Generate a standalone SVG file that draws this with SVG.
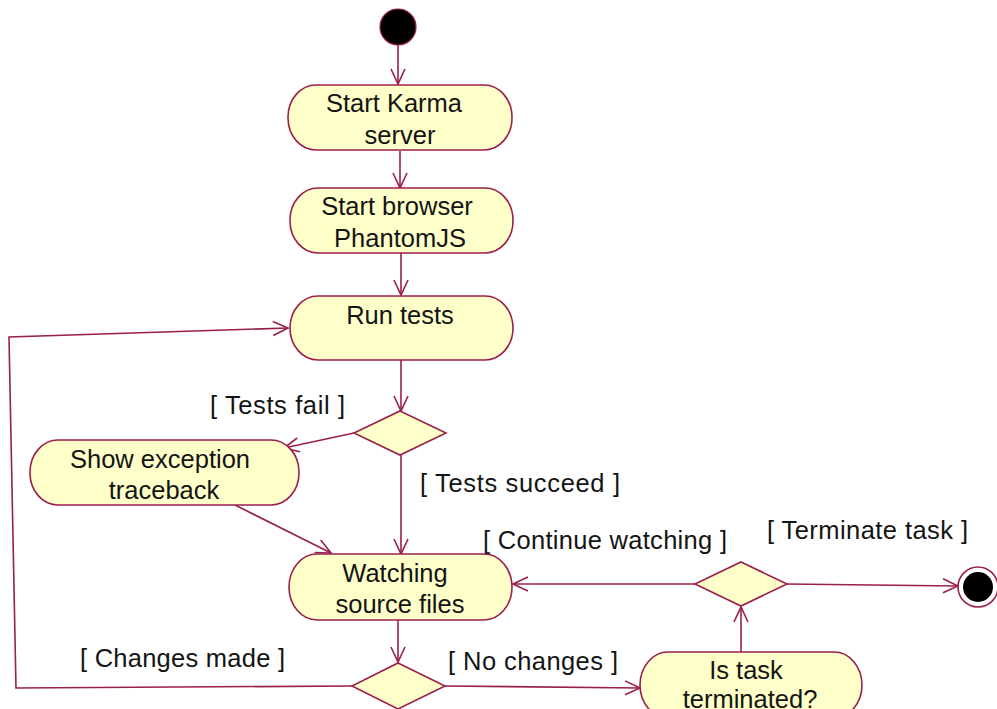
<svg xmlns="http://www.w3.org/2000/svg" width="997" height="709" viewBox="0 0 997 709">
  <style>
    .act { fill: #FFFFCA; stroke: #9B1F4C; stroke-width: 1.6; }
    .dec { fill: #FFFFCA; stroke: #9B1F4C; stroke-width: 1.6; }
    .edge { fill: none; stroke: #9B1F4C; stroke-width: 1.6; marker-end: url(#open); }
    .lbl { font-family: "Liberation Sans", Arial, sans-serif; font-size: 25.5px; fill: #141414; }
    .mid { text-anchor: middle; }
  </style>
  <defs>
    <marker id="open" markerUnits="userSpaceOnUse" markerWidth="20" markerHeight="20" refX="16" refY="8" orient="auto">
      <path d="M1,1 L16,8 L1,15" fill="none" stroke="#9B1F4C" stroke-width="1.6"/>
    </marker>
  </defs>

  <!-- connectors -->
  <g id="connectors">
    <line class="edge" x1="398" y1="45" x2="398" y2="84"/>
    <line class="edge" x1="400" y1="151" x2="400" y2="188"/>
    <line class="edge" x1="401" y1="253" x2="401" y2="295"/>
    <line class="edge" x1="401" y1="360" x2="401" y2="411"/>
    <line class="edge" x1="354" y1="433" x2="284" y2="448"/>
    <line class="edge" x1="401" y1="455" x2="401" y2="554"/>
    <line class="edge" x1="235" y1="505" x2="331" y2="553"/>
    <line class="edge" x1="398" y1="620" x2="398" y2="662"/>
    <polyline class="edge" points="352,686 16,688 9,337 288,328"/>
    <line class="edge" x1="445" y1="686" x2="640" y2="688"/>
    <line class="edge" x1="741" y1="652" x2="741" y2="607"/>
    <line class="edge" x1="695" y1="584" x2="513" y2="584"/>
    <line class="edge" x1="787" y1="584" x2="958" y2="586"/>
  </g>

  <!-- guard labels -->
  <g id="guards">
    <text class="lbl" x="210" y="414" textLength="135">[ Tests fail ]</text>
    <text class="lbl" x="420" y="492" textLength="200">[ Tests succeed ]</text>
    <text class="lbl" x="80" y="667" textLength="205">[ Changes made ]</text>
    <text class="lbl" x="448" y="670" textLength="170">[ No changes ]</text>
    <text class="lbl" x="483" y="549" textLength="244">[ Continue watching ]</text>
    <text class="lbl" x="767" y="539" textLength="201">[ Terminate task ]</text>
  </g>

  <g id="start">
    <circle cx="398" cy="27" r="18" fill="#000" stroke="#9B1F4C" stroke-width="1.2"/>
  </g>

  <g id="start-karma">
    <rect class="act" x="288" y="85" width="224" height="65" rx="28" ry="32"/>
    <text class="lbl mid" x="394" y="112">Start Karma</text>
    <text class="lbl mid" x="400" y="144">server</text>
  </g>

  <g id="start-browser">
    <rect class="act" x="290" y="188" width="223" height="65" rx="28" ry="32"/>
    <text class="lbl mid" x="397" y="215">Start browser</text>
    <text class="lbl mid" x="400" y="247">PhantomJS</text>
  </g>

  <g id="run-tests">
    <rect class="act" x="290" y="296" width="223" height="64" rx="28" ry="32"/>
    <text class="lbl mid" x="400" y="324">Run tests</text>
  </g>

  <g id="decision-tests">
    <polygon class="dec" points="400,411 446,433 400,455 354,433"/>
  </g>

  <g id="show-exception">
    <rect class="act" x="30" y="440" width="269" height="65" rx="28" ry="32"/>
    <text class="lbl mid" x="160" y="468">Show exception</text>
    <text class="lbl mid" x="164" y="499">traceback</text>
  </g>

  <g id="watching">
    <rect class="act" x="289" y="554" width="223" height="66" rx="28" ry="33"/>
    <text class="lbl mid" x="395" y="582">Watching</text>
    <text class="lbl mid" x="400" y="613">source files</text>
  </g>

  <g id="decision-changes">
    <polygon class="dec" points="398,663 445,686 398,709 352,686"/>
  </g>

  <g id="is-terminated">
    <rect class="act" x="640" y="652" width="222" height="66" rx="28" ry="33"/>
    <text class="lbl mid" x="746" y="679">Is task</text>
    <text class="lbl mid" x="750" y="708">terminated?</text>
  </g>

  <g id="decision-terminate">
    <polygon class="dec" points="741,562 787,584 741,606 695,584"/>
  </g>

  <g id="end">
    <circle cx="978" cy="587" r="20" fill="#fff" stroke="#9B1F4C" stroke-width="1.6"/>
    <circle cx="978" cy="587" r="15" fill="#000"/>
  </g>
</svg>
